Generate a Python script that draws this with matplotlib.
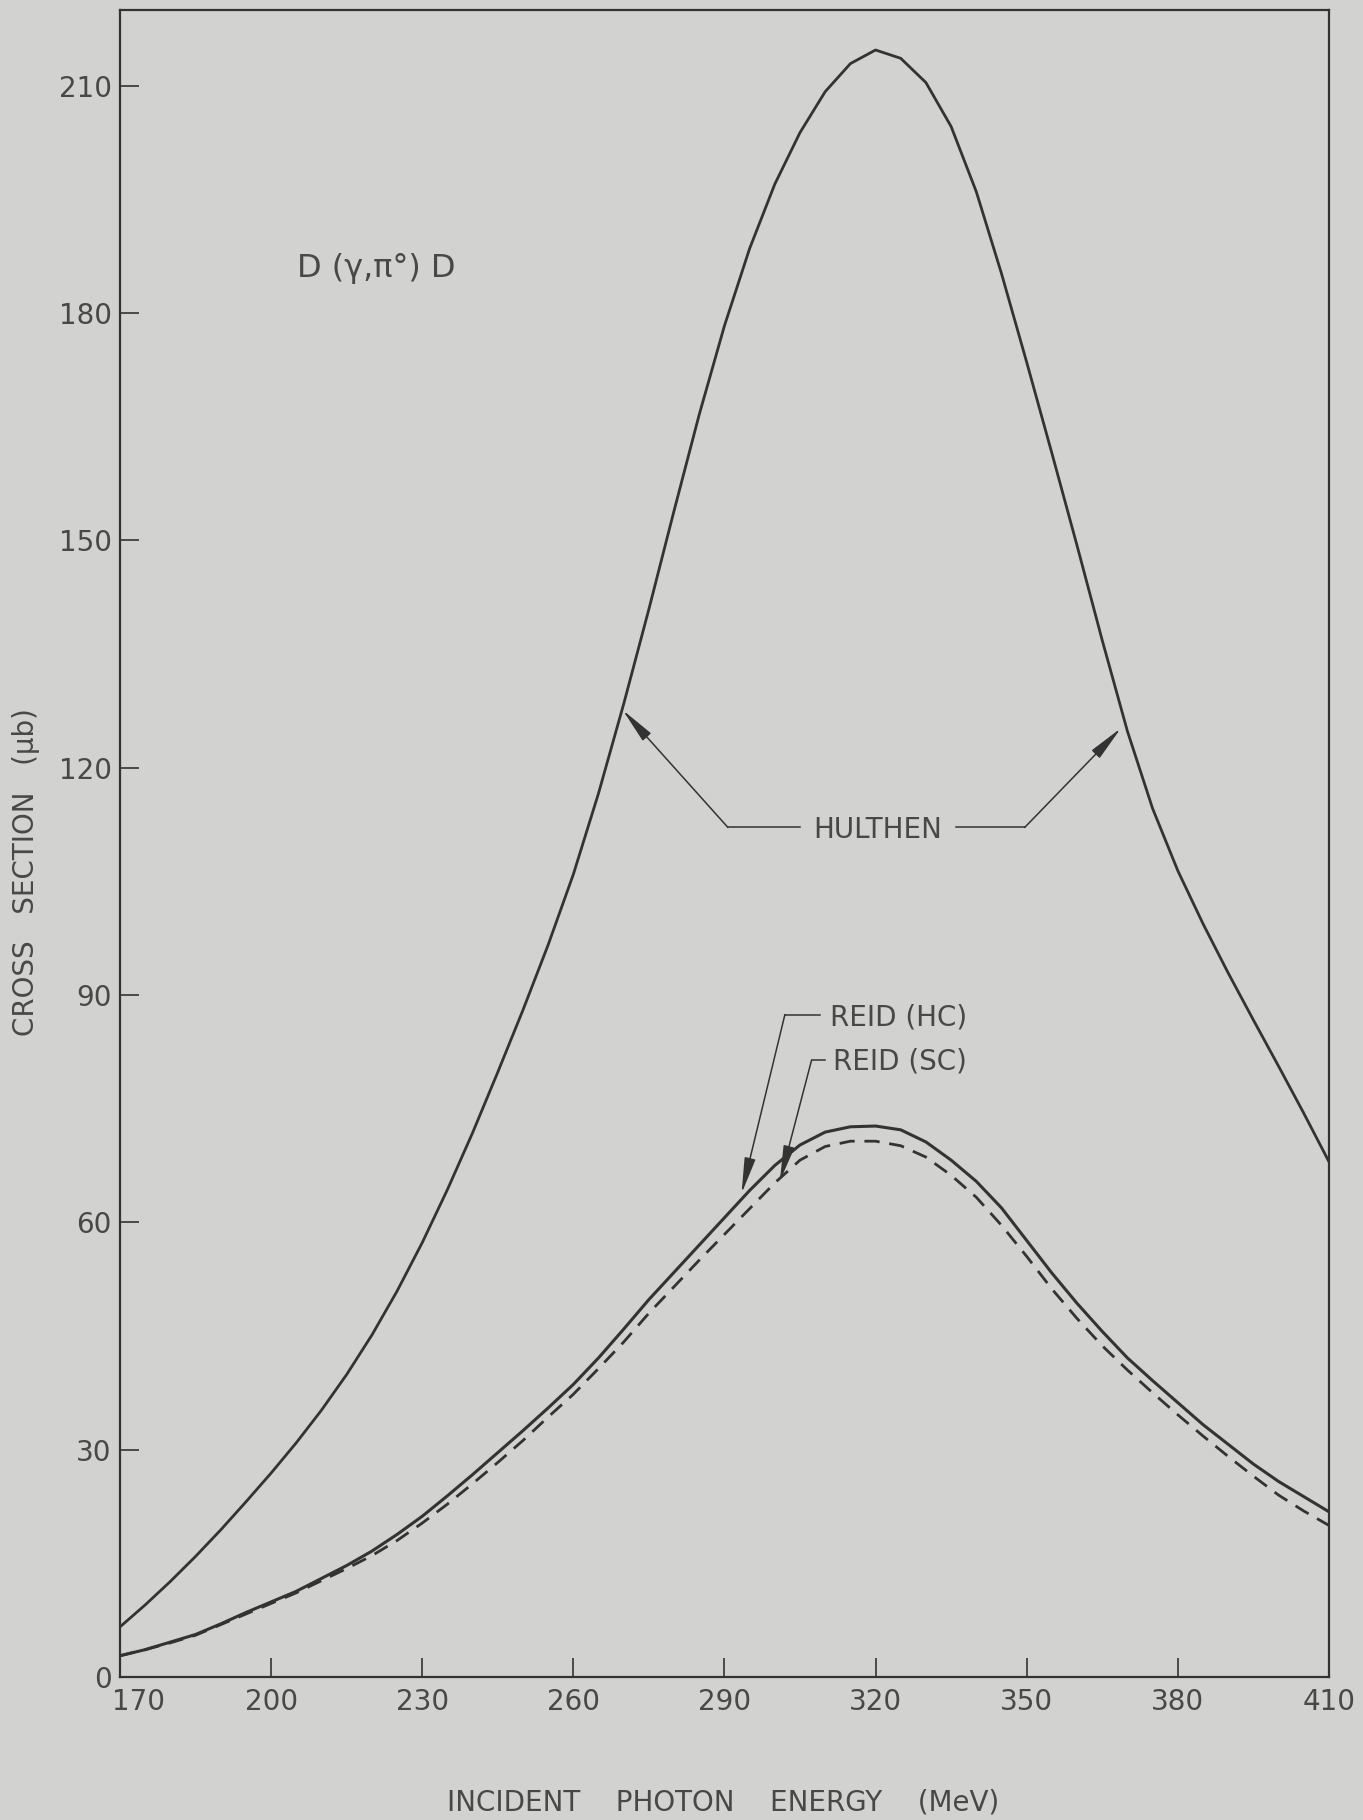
import numpy as np
import matplotlib
matplotlib.use("Agg")
import matplotlib.pyplot as plt
from matplotlib.transforms import ScaledTranslation

# photon energy (MeV), every 5 MeV
energy = [170, 175, 180, 185, 190, 195, 200, 205, 210, 215, 220, 225, 230,
          235, 240, 245, 250, 255, 260, 265, 270, 275, 280, 285, 290, 295,
          300, 305, 310, 315, 320, 325, 330, 335, 340, 345, 350, 355, 360,
          365, 370, 375, 380, 385, 390, 395, 400, 405, 410]

# cross sections (microbarn)
hulthen = [6.6, 9.5, 12.6, 15.9, 19.4, 23.1, 26.9, 30.9, 35.2, 39.9, 45.1,
           50.9, 57.3, 64.3, 71.8, 79.8, 88.0, 96.6, 105.9, 116.6, 128.4,
           140.9, 153.9, 166.6, 178.3, 188.5, 197.0, 203.8, 209.2, 212.9,
           214.7, 213.6, 210.4, 204.6, 196.0, 185.2, 173.5, 161.5, 149.3,
           136.8, 124.8, 114.6, 106.4, 99.4, 92.9, 86.7, 80.6, 74.4, 68.0]

reid_hc = [2.8, 3.6, 4.6, 5.6, 7.0, 8.5, 9.9, 11.3, 13.0, 14.7, 16.6, 18.8,
           21.2, 23.9, 26.7, 29.6, 32.5, 35.5, 38.6, 42.1, 45.9, 49.8, 53.4,
           57.0, 60.6, 64.2, 67.5, 70.2, 71.9, 72.6, 72.7, 72.2, 70.6, 68.2,
           65.4, 61.9, 57.6, 53.3, 49.3, 45.6, 42.1, 39.1, 36.2, 33.3, 30.7,
           28.1, 25.8, 23.8, 21.8]

reid_sc = [2.8, 3.6, 4.5, 5.5, 6.9, 8.3, 9.7, 11.1, 12.7, 14.3, 16.0, 18.0,
           20.3, 22.8, 25.5, 28.3, 31.2, 34.3, 37.3, 40.7, 44.2, 48.0, 51.5,
           55.0, 58.4, 61.8, 65.2, 68.2, 70.0, 70.7, 70.7, 70.1, 68.6, 66.2,
           63.3, 59.6, 55.5, 51.2, 47.3, 43.7, 40.5, 37.5, 34.6, 31.8, 29.1,
           26.5, 24.0, 21.9, 20.0]

x_ticks = [170, 200, 230, 260, 290, 320, 350, 380, 410]
y_ticks = [0, 30, 60, 90, 120, 150, 180, 210]

paper = "#d2d2d0"
ink = "#333333"
text_ink = "#484848"

plt.rcParams["font.family"] = ["DejaVu Sans"]

fig = plt.figure(figsize=(13.63, 18.20), dpi=100, facecolor=paper)
ax = fig.add_axes([0.088, 0.0786, 0.887, 0.916], facecolor=paper)

ax.plot(energy, hulthen, color=ink, lw=2.0, solid_joinstyle="round")
ax.plot(energy, reid_hc, color=ink, lw=2.2, solid_joinstyle="round")
ax.plot(energy, reid_sc, color=ink, lw=2.0, dashes=(5.5, 3.5))

ax.set_xlim(170, 410)
ax.set_ylim(0, 220)
ax.set_xticks(x_ticks)
ax.set_yticks(y_ticks)
ax.tick_params(direction="in", length=14, width=1.2, color=ink,
               labelsize=20, labelcolor=text_ink)
ax.tick_params(axis="y", pad=6)
ax.tick_params(axis="x", pad=8)
for sp in ax.spines.values():
    sp.set_color(ink)
    sp.set_linewidth(1.6)

# the 170 label sits a little right of its tick in the original
ax.get_xaxis().get_major_ticks()
lab = ax.get_xticklabels()[0]
lab.set_transform(lab.get_transform() + ScaledTranslation(0.19, 0, fig.dpi_scale_trans))

# reaction label
ax.text(205.1, 184.7, "D (γ,π°) D", fontsize=23, color=text_ink, va="baseline")

arrow = dict(arrowstyle="-|>,head_length=1.1,head_width=0.17", color=ink,
             lw=1.1, shrinkA=0, shrinkB=0, mutation_scale=20)

# HULTHEN label with two leaders
ax.text(320.5, 110.7, "HULTHEN", fontsize=20, color=text_ink,
        ha="center", va="baseline")
ax.plot([305.0, 290.7], [112.1, 112.1], color=ink, lw=1.1)
ax.annotate("", xy=(269.8, 127.6), xytext=(290.7, 112.1), arrowprops=arrow)
ax.plot([336.0, 349.6], [112.1, 112.1], color=ink, lw=1.1)
ax.annotate("", xy=(368.7, 125.2), xytext=(349.6, 112.1), arrowprops=arrow)

# REID labels
ax.text(310.9, 86.0, "REID (HC)", fontsize=20, color=text_ink, va="baseline")
ax.plot([309.0, 302.0], [87.4, 87.4], color=ink, lw=1.1)
ax.annotate("", xy=(293.4, 63.8), xytext=(302.0, 87.4), arrowprops=arrow)

ax.text(311.5, 80.1, "REID (SC)", fontsize=20, color=text_ink, va="baseline")
ax.plot([310.0, 307.3], [81.4, 81.4], color=ink, lw=1.1)
ax.annotate("", xy=(301.0, 65.4), xytext=(307.3, 81.4), arrowprops=arrow)

# axis titles
fig.text(723 / 1363, 1 - 1802 / 1820, "INCIDENT    PHOTON    ENERGY    (MeV)",
         fontsize=20, color=text_ink, ha="center", va="center")
fig.text(26 / 1363, 1 - 872 / 1820, "CROSS   SECTION   (μb)",
         fontsize=20, color=text_ink, ha="center", va="center", rotation=90)

fig.savefig("out.png", dpi=100, facecolor=paper)
